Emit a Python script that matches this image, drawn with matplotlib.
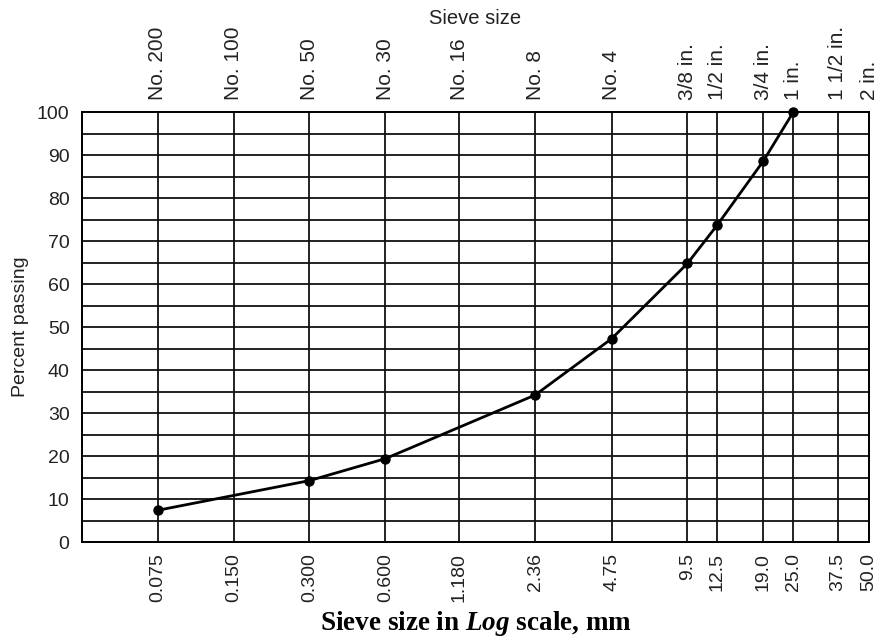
import matplotlib.pyplot as plt
from matplotlib.ticker import FixedLocator, NullLocator

plt.rcParams["mathtext.fontset"] = "custom"
plt.rcParams["mathtext.bfit"] = "Liberation Serif:bold:italic"
plt.rcParams["mathtext.it"] = "Liberation Serif:bold:italic"
plt.rcParams["mathtext.rm"] = "Liberation Serif:bold"

# sieve openings (mm) and matching US sieve designations
sizes_mm = [0.075, 0.150, 0.300, 0.600, 1.180, 2.36, 4.75, 9.5, 12.5, 19.0, 25.0, 37.5, 50.0]
size_labels = ["0.075", "0.150", "0.300", "0.600", "1.180", "2.36", "4.75",
               "9.5", "12.5", "19.0", "25.0", "37.5", "50.0"]
sieve_names = ["No. 200", "No. 100", "No. 50", "No. 30", "No. 16", "No. 8", "No. 4",
               "3/8 in.", "1/2 in.", "3/4 in.", "1 in.", "1 1/2 in.", "2 in."]

# gradation data
grad_size = [0.075, 0.300, 0.600, 2.36, 4.75, 9.5, 12.5, 19.0, 25.0]
grad_pass = [7.4, 14.3, 19.4, 34.2, 47.3, 64.8, 73.8, 88.6, 100.0]

fig = plt.figure(figsize=(8.77, 6.37), dpi=100)
ax = fig.add_axes([0.0935, 0.149, 0.8975, 0.675])

ax.set_xscale("log")
ax.set_xlim(0.0375, 50.0)
ax.set_ylim(0, 100)

# grid: vertical at each sieve, horizontal every 5 %
for s in sizes_mm:
    ax.axvline(s, color="#111111", lw=1.3, zorder=1)
for p in range(5, 100, 5):
    ax.axhline(p, color="#111111", lw=1.3, zorder=1)

ax.plot(grad_size, grad_pass, color="black", lw=2, marker="o", ms=6.5,
        clip_on=False, zorder=3)

ax.xaxis.set_major_locator(FixedLocator(sizes_mm))
ax.xaxis.set_minor_locator(NullLocator())
ax.set_xticklabels(size_labels, rotation=90, fontsize=14, family="Liberation Sans",
                   color="#222222")
ax.set_yticks(range(0, 101, 10))
ax.set_yticklabels([str(v) for v in range(0, 101, 10)], fontsize=14,
                   family="Liberation Sans", color="#222222")
ax.tick_params(length=0, pad=8)
ax.tick_params(axis="y", pad=9)

for sp in ax.spines.values():
    sp.set_linewidth(1.3)

ax.set_ylabel("Percent passing", fontsize=14, family="Liberation Sans", labelpad=6,
              color="#222222")
ax.set_xlabel(r"Sieve size in $\mathit{Log}$ scale, mm", fontsize=19.5, fontweight="bold",
              family="Liberation Serif", labelpad=5)

top = ax.twiny()
top.set_xscale("log")
top.set_xlim(ax.get_xlim())
top.xaxis.set_major_locator(FixedLocator(sizes_mm))
top.xaxis.set_minor_locator(NullLocator())
top.set_xticklabels(sieve_names, rotation=90, fontsize=15, family="Liberation Sans",
                    color="#222222")
top.tick_params(length=0, pad=9)
top.set_xlabel("Sieve size", fontsize=14.5, family="Liberation Sans", labelpad=1,
               color="#222222")
for sp in top.spines.values():
    sp.set_linewidth(1.3)

fig.savefig("out.png", dpi=100)
